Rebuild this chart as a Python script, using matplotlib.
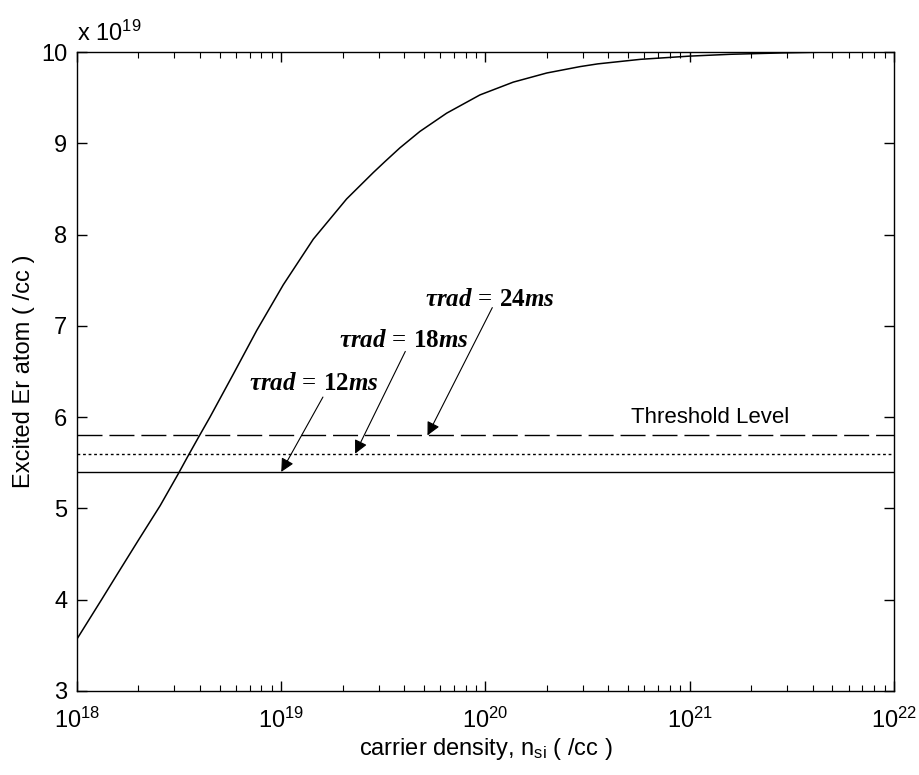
import numpy as np
import matplotlib.pyplot as plt
from matplotlib.ticker import LogLocator, FixedLocator

# excited Er atom curve, y in units of 1e19 /cc
log_n = [18.0, 18.12, 18.20, 18.30, 18.407, 18.496, 18.54, 18.59, 18.651,
         18.765, 18.88, 19.01, 19.157, 19.32, 19.451, 19.508, 19.581, 19.679,
         19.81, 19.973, 20.136, 20.30, 20.463, 20.55, 20.76, 21.0, 21.2,
         21.45, 21.70]
excited = [3.57, 4.00, 4.29, 4.65, 5.03, 5.38, 5.56, 5.76, 6.00,
           6.47, 6.95, 7.45, 7.95, 8.39, 8.68, 8.80, 8.95, 9.13,
           9.33, 9.53, 9.67, 9.77, 9.84, 9.87, 9.92, 9.955, 9.975,
           9.99, 10.0]

# threshold levels for the three radiative lifetimes
labels = [r'$\tau rad\,=\,\mathbf{12}ms$', r'$\tau rad\,=\,\mathbf{18}ms$',
          r'$\tau rad\,=\,\mathbf{24}ms$']
thresholds = [5.4, 5.6, 5.8]
styles = ['-', (0, (2, 2)), (0, (18, 5))]
arrow_tips = [1.0e19, 2.3e19, 5.2e19]
text_pos = [(1.45e19, 6.37), (4.0e19, 6.84), (1.05e20, 7.29)]
arrow_start = [(1.6e19, 6.22), (4.05e19, 6.72), (1.08e20, 7.2)]

plt.rcParams['font.family'] = ['Liberation Sans', 'DejaVu Sans']
plt.rcParams['mathtext.fontset'] = 'custom'
plt.rcParams['mathtext.rm'] = 'Liberation Serif'
plt.rcParams['mathtext.it'] = 'Liberation Serif:italic:bold'
plt.rcParams['mathtext.bf'] = 'Liberation Serif:bold'

fig = plt.figure(figsize=(9.2, 7.75), dpi=100)
ax = fig.add_axes([0.0837, 0.1084, 0.888, 0.8245])

n = 10.0 ** np.array(log_n)
ax.plot(n, excited, color='k', lw=1.1)

for th, ls in zip(thresholds, styles):
    ax.plot([1e18, 1e22], [th, th], color='k', lw=1.0, linestyle=ls)

for lab, th, tip, tp, st in zip(labels, thresholds, arrow_tips, text_pos, arrow_start):
    ax.text(tp[0], tp[1], lab, fontsize=18, ha='center', va='center')
    ax.annotate('', xy=(tip, th), xytext=st,
                arrowprops=dict(arrowstyle='-|>', color='k', lw=0.8,
                                mutation_scale=20, shrinkA=0, shrinkB=0))

ax.text(1.26e21, 6.0, 'Threshold Level', fontsize=16, ha='center', va='center')

ax.set_xscale('log')
ax.set_xlim(1e18, 1e22)
ax.set_ylim(3, 10)
ax.xaxis.set_major_locator(LogLocator(base=10, numticks=10))
ax.xaxis.set_minor_locator(LogLocator(base=10, subs=np.arange(2, 10), numticks=20))
ax.yaxis.set_major_locator(FixedLocator(range(3, 11)))
ax.tick_params(which='both', direction='in', top=True, right=True, labelsize=17)
ax.tick_params(which='major', length=7, width=1)
ax.tick_params(which='minor', length=4, width=0.8)
ax.tick_params(axis='x', pad=12)
ax.tick_params(axis='y', pad=7)
for s in ax.spines.values():
    s.set_linewidth(1.0)

ax.text(0.0, 1.01, r'x $\mathdefault{10^{19}}$', transform=ax.transAxes,
        fontsize=17, ha='left', va='bottom')
ax.set_xlabel(r'carrier density, n$_{\mathdefault{si}}$ ( /cc )', fontsize=17,
              labelpad=2)
ax.set_ylabel('Excited Er atom ( /cc )', fontsize=17, labelpad=4)

fig.savefig('out.png', dpi=100)
